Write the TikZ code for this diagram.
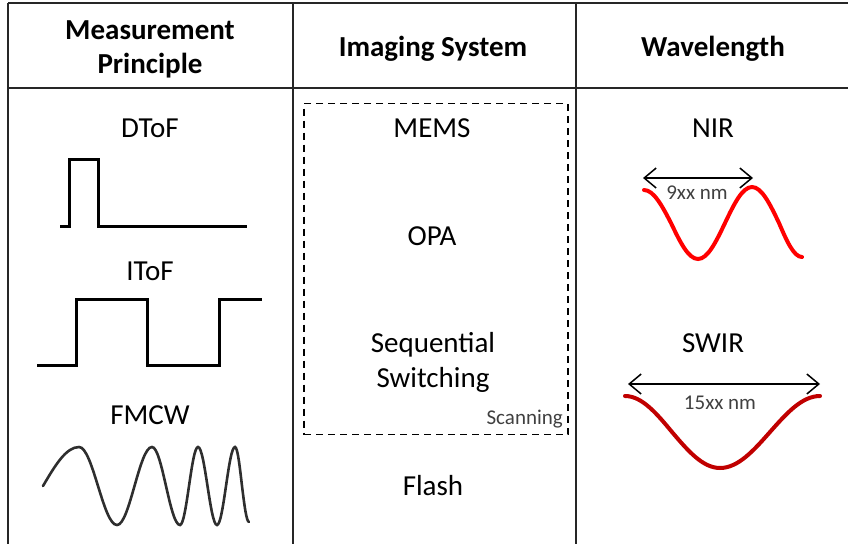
\documentclass[tikz,border=0pt]{standalone}
\usepackage{fontspec}
\setmainfont{Carlito}
\usepackage{tikz}
\usetikzlibrary{arrows.meta}
\definecolor{rule}{HTML}{262626}
\definecolor{nirred}{HTML}{FF0000}
\definecolor{swirred}{HTML}{C00000}
\definecolor{note}{HTML}{404040}
\definecolor{chirp}{HTML}{2E2E2E}

\begin{document}
\begin{tikzpicture}[
  x=1pt, y=-1pt,
  grid/.style={draw=rule,line width=2pt},
  head/.style={anchor=base,align=center,font=\fontsize{29}{34}\selectfont\bfseries},
  body/.style={anchor=base,align=center,font=\fontsize{29}{35}\selectfont},
  small/.style={anchor=base,text=note,inner sep=0pt,font=\fontsize{21}{24}\selectfont},
  pulse/.style={line width=3pt,line join=miter},
  wave/.style={line width=4pt,line cap=round},
  dim/.style={{Straight Barb[length=12pt,width=20pt]}-{Straight Barb[length=12pt,width=20pt]},line width=1.5pt}
]
\useasboundingbox (0,0) rectangle (848,544);

% table rules
\draw[grid] (8,3) -- (848,3);
\draw[grid] (8,88) -- (848,88);
\foreach \xc in {8,293,576}
  \draw[grid] (\xc,3) -- (\xc,544);

% column heads (base = last line)
\node[head] (hmeas) at (150,73) {Measurement\\Principle};
\node[head] (himg) at (433,56) {Imaging System};
\node[head] (hwave) at (713,56) {Wavelength};

% measurement principle
\node[body] (dtof) at (150,137) {DToF};
\draw[pulse] (60,226) -- (69,226) -- (69,159) -- (98,159) -- (98,226) -- (247,226);
\node[body] (itof) at (150,280) {IToF};
\draw[pulse] (37,365) -- (76,365) -- (76,299) -- (147,299) -- (147,365)
  -- (219,365) -- (219,299) -- (262,299);
\node[body] (fmcw) at (150,424) {FMCW};
\draw[chirp,line width=2.6pt,line cap=round]
  (43,486) sin (79,447) cos (98,486) sin (117,525) cos (134.5,486)
  sin (152,447) cos (166,486) sin (180,525) cos (189,486)
  sin (198,447) cos (207.5,486) sin (217,525) cos (226,486)
  sin (235,447) cos (242,486) sin (249,522);

% imaging system
\node[draw,dashed,line width=1.6pt,dash pattern=on 7pt off 5pt,
  minimum width=264pt,minimum height=331pt] (scan) at (436,269) {};
\node[body] (mems) at (432,137) {MEMS};
\node[body] (opa) at (432,245) {OPA};
\node[body] (seq) at (433,387) {Sequential\\Switching};
\node[small,anchor=base east] (scanlbl) at (563,424) {Scanning};
\node[body] (flash) at (433,495) {Flash};

% wavelength
\node[body] (nir) at (713,137) {NIR};
\coordinate (nirL) at (643,178);
\coordinate (nirR) at (753,178);
\draw[dim] (nirL) -- (nirR);
\node[small] (nirlbl) at (697,199) {9xx nm};
\draw[wave,nirred] (644,190) cos (671,223) sin (698,259) cos (725,223)
  sin (752,187) cos (779,223) sin (802,257);

\node[body] (swir) at (713,352) {SWIR};
\coordinate (swirL) at (628,384);
\coordinate (swirR) at (820,384);
\draw[dim] (swirL) -- (swirR);
\node[small] (swirlbl) at (720,409) {15xx nm};
\draw[wave,swirred] (625,396) cos (672,432) sin (720,468) cos (770,432)
  sin (820,396);
\end{tikzpicture}
\end{document}
